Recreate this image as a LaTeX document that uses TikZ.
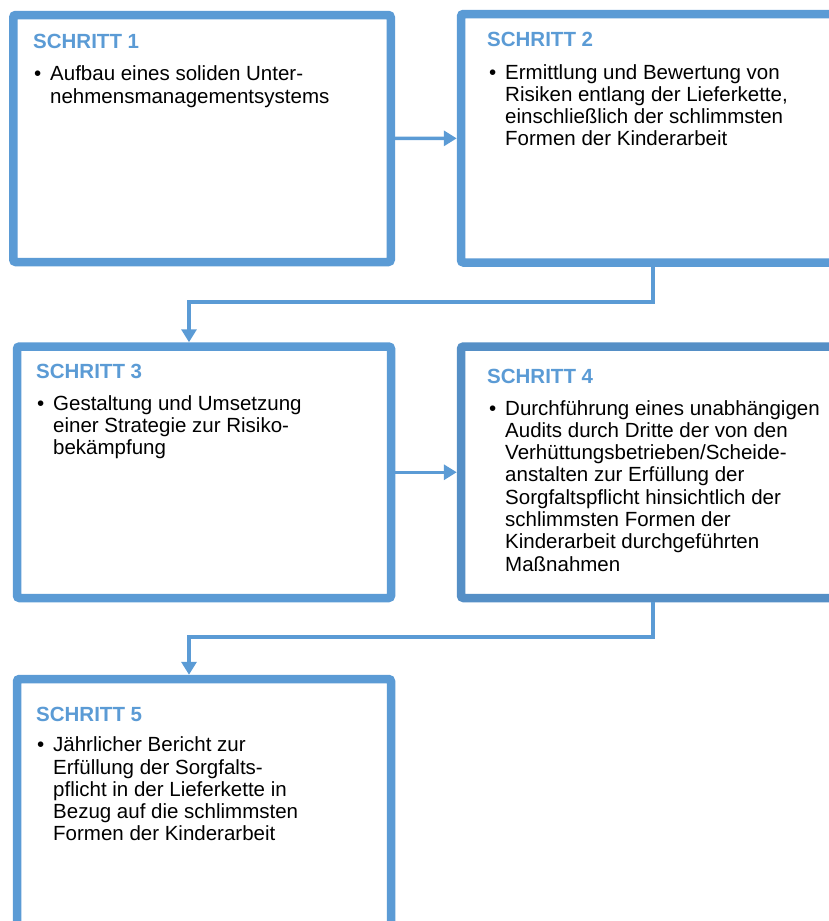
\documentclass[tikz,border=0pt]{standalone}
\usepackage{fontspec}
\setmainfont{Liberation Sans}
\usetikzlibrary{arrows.meta,positioning}
\definecolor{StepBlue}{HTML}{5B9BD5}
\definecolor{StepBlueDark}{HTML}{558FC6}
\definecolor{Ink}{HTML}{000000}

\begin{document}
\begin{tikzpicture}[x=1pt,y=-1pt,
  stepbox/.style={draw=StepBlue,line width=8.5pt,rounded corners=2.5pt,fill=white,inner sep=0pt},
  head/.style={anchor=base west,inner sep=0pt,text=StepBlue,font=\fontsize{20.5}{22.3}\selectfont\bfseries},
  body/.style={anchor=base west,inner sep=0pt,align=left,text=Ink,font=\fontsize{20.5}{22.3}\selectfont},
  dot/.style={anchor=base west,inner sep=0pt,text=Ink,font=\fontsize{20.5}{22.3}\selectfont},
  arr/.style={-{Triangle[length=13pt,width=15pt]},line width=3.5pt,draw=StepBlue}
]
\path[use as bounding box,clip] (0,0) rectangle (829,921);

\node[stepbox,minimum width=377.5pt,minimum height=247pt] (s1) at (202,138.5) {};
\node[stepbox,minimum width=375pt,minimum height=248.5pt] (s2) at (648.5,138.25) {};
\node[stepbox,minimum width=374pt,minimum height=251.5pt] (s3) at (204,472.25) {};
\node[stepbox,draw=StepBlueDark,minimum width=375pt,minimum height=251.5pt] (s4) at (648.5,472.25) {};
\node[stepbox,minimum width=374pt,minimum height=251pt] (s5) at (204,804.5) {};

\node[head] (t1) at (33,48.5) {SCHRITT 1};
\node[dot] (d1) at (34,80.7) {\textbullet};
\node[body] (b1) at (50,103) {Aufbau eines soliden Unter-\\nehmensmanagementsystems};

\node[head] (t2) at (487,46.7) {SCHRITT 2};
\node[dot] (d2) at (489,79) {\textbullet};
\node[body] (b2) at (505,145.9) {Ermittlung und Bewertung von\\Risiken entlang der Lieferkette,\\einschließlich der schlimmsten\\Formen der Kinderarbeit};

\node[head] (t3) at (36,378) {SCHRITT 3};
\node[dot] (d3) at (37,410) {\textbullet};
\node[body] (b3) at (53,454.6) {Gestaltung und Umsetzung\\einer Strategie zur Risiko-\\bekämpfung};

\node[head] (t4) at (487,383.5) {SCHRITT 4};
\node[dot] (d4) at (489,415) {\textbullet};
\node[body] (b4) at (505,571.1) {Durchführung eines unabhängigen\\Audits durch Dritte der von den\\Verhüttungsbetrieben/Scheide-\\anstalten zur Erfüllung der\\Sorgfaltspflicht hinsichtlich der\\schlimmsten Formen der\\Kinderarbeit durchgeführten\\Maßnahmen};

\node[head] (t5) at (36,721) {SCHRITT 5};
\node[dot] (d5) at (37,751.7) {\textbullet};
\node[body] (b5) at (53,840.9) {Jährlicher Bericht zur\\Erfüllung der Sorgfalts-\\pflicht in der Lieferkette in\\Bezug auf die schlimmsten\\Formen der Kinderarbeit};

\coordinate (k2) at (653,302);
\coordinate (k4) at (653,637);
\draw[arr] (s1) -- (s2);
\draw[arr] (s2.south -| k2) -- (k2) -| ([xshift=-15pt]s3.north);
\draw[arr] (s3) -- (s4);
\draw[arr] (s4.south -| k4) -- (k4) -| ([xshift=-15pt]s5.north);
\end{tikzpicture}
\end{document}
